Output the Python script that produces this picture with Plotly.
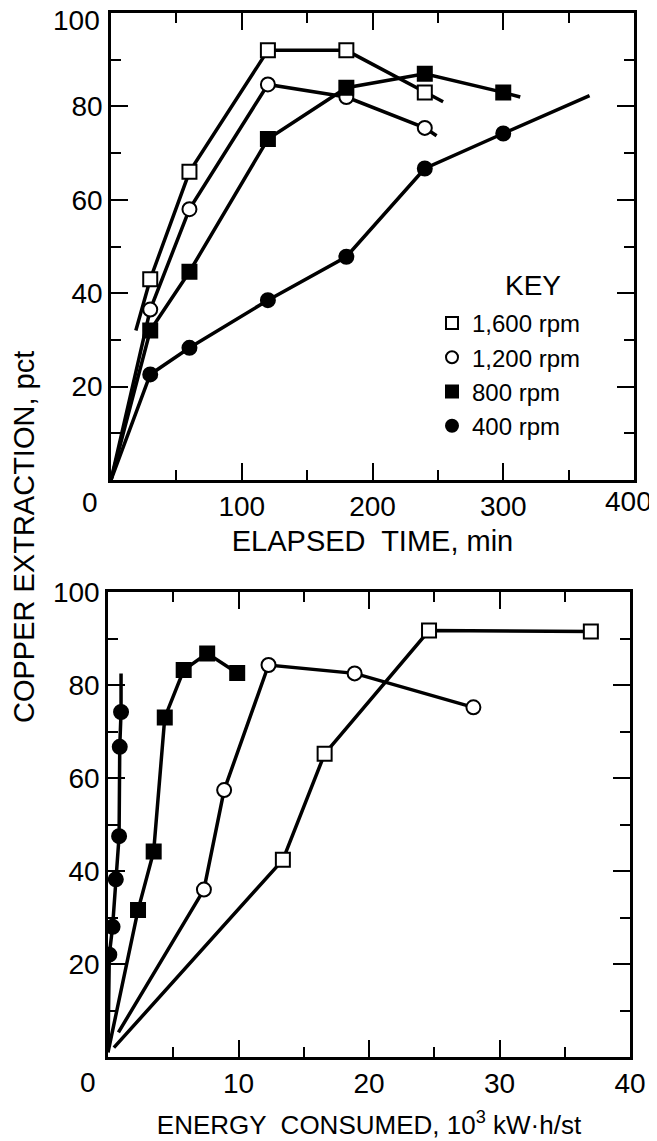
import plotly.graph_objects as go

# ---------------- DATA ----------------
# Top panel: elapsed time (min) vs copper extraction (pct)
series_names = ["1,600 rpm", "1,200 rpm", "800 rpm", "400 rpm"]

time_1600 = [30, 60, 120, 180, 240]
cu_t_1600 = [43, 66, 92, 92, 83]
time_1200 = [30, 60, 120, 180, 240]
cu_t_1200 = [36.5, 58, 84.7, 82, 75.4]
time_800 = [30, 60, 120, 180, 240, 300]
cu_t_800 = [32, 44.6, 73, 84, 87, 83]
time_400 = [30, 60, 120, 180, 240, 300]
cu_t_400 = [22.6, 28.3, 38.5, 47.8, 66.7, 74.2]

# drawn curve ends (start point, end point)
time_line_start = {"1,600 rpm": (19, 32), "1,200 rpm": (0, 0), "800 rpm": (0, 0), "400 rpm": (0, 0)}
time_line_end = {"1,600 rpm": (254, 81), "1,200 rpm": (249, 73.7), "800 rpm": (313, 82), "400 rpm": (366, 82.3)}

# Bottom panel: energy consumed (10^3 kW.h/st) vs copper extraction (pct)
energy_1600 = [13.4, 16.6, 24.6, 37.0]
cu_e_1600 = [42.4, 65.2, 91.7, 91.5]
energy_1200 = [7.35, 8.9, 12.3, 18.9, 28.0]
cu_e_1200 = [36, 57.4, 84.3, 82.5, 75.2]
energy_800 = [2.3, 3.5, 4.35, 5.8, 7.6, 9.9]
cu_e_800 = [31.6, 44.2, 73, 83.2, 86.8, 82.6]
energy_400 = [0.1, 0.35, 0.6, 0.85, 0.9, 1.0]
cu_e_400 = [22, 28, 38.2, 47.5, 66.7, 74.2]

energy_line_start = {"1,600 rpm": (0.45, 2), "1,200 rpm": (0.8, 5.3), "800 rpm": (0, 1), "400 rpm": (0, 1)}
energy_line_end = {"1,600 rpm": None, "1,200 rpm": None, "800 rpm": None, "400 rpm": (1.0, 82.5)}

x_ticks_time = [100, 200, 300, 400]
x_ticktext_time = ["100", "200", "300", ""]      # "400" lettered slightly inward (annotation)
x_ticks_energy = [10, 20, 30, 40]
y_ticks = [20, 40, 60, 80, 100]
y_ticktext_top = ["20", "40", "60", "80", ""]   # top "100" is lettered slightly lower (annotation)
y_ticktext_bot = ["20", "40", "60", "80", "100"]

# ---------------- LAYOUT HELPERS ----------------
PAGE_OFF = 8            # default body margin of the html page
W, H = 657 - PAGE_OFF, 1141 - PAGE_OFF
FONT = "Liberation Sans"


def px_x(p):
    return (p - PAGE_OFF) / W


def px_y(p):
    return 1 - (p - PAGE_OFF) / H


symbols = {"1,600 rpm": "square", "1,200 rpm": "circle", "800 rpm": "square", "400 rpm": "circle"}
fills = {"1,600 rpm": "white", "1,200 rpm": "white", "800 rpm": "black", "400 rpm": "black"}

top_data = {
    "1,600 rpm": (time_1600, cu_t_1600),
    "1,200 rpm": (time_1200, cu_t_1200),
    "800 rpm": (time_800, cu_t_800),
    "400 rpm": (time_400, cu_t_400),
}
bot_data = {
    "1,600 rpm": (energy_1600, cu_e_1600),
    "1,200 rpm": (energy_1200, cu_e_1200),
    "800 rpm": (energy_800, cu_e_800),
    "400 rpm": (energy_400, cu_e_400),
}

fig = go.Figure()


def add_panel(data, starts, ends, xa, ya, legend):
    for name in series_names:
        xs, ys = data[name]
        lx, ly = list(xs), list(ys)
        if starts.get(name):
            lx = [starts[name][0]] + lx
            ly = [starts[name][1]] + ly
        if ends.get(name):
            lx = lx + [ends[name][0]]
            ly = ly + [ends[name][1]]
        fig.add_trace(go.Scatter(x=lx, y=ly, mode="lines", xaxis=xa, yaxis=ya,
                                 line=dict(color="black", width=3.5),
                                 showlegend=False, hoverinfo="skip"))
    for name in series_names:
        xs, ys = data[name]
        fig.add_trace(go.Scatter(x=xs, y=ys, mode="markers", xaxis=xa, yaxis=ya, name=name,
                                 marker=dict(symbol=symbols[name], size=14, color=fills[name],
                                             line=dict(color="black", width=2)),
                                 showlegend=legend))


add_panel(top_data, time_line_start, time_line_end, "x", "y", True)
add_panel(bot_data, energy_line_start, energy_line_end, "x2", "y2", False)

axis_common = dict(showline=True, linecolor="black", linewidth=2.5, mirror="allticks",
                   ticks="inside", tickcolor="black", tickwidth=2, ticklen=17,
                   showgrid=False, zeroline=False, automargin=False,
                   ticklabeloverflow="allow",
                   tickfont=dict(family=FONT, size=28, color="black"))

minor_y = dict(tickvals=[10, 30, 50, 70, 90], ticklen=10, tickwidth=2, tickcolor="black", ticks="inside")

fig.update_layout(
    width=W, height=H,
    margin=dict(l=0, r=0, t=0, b=0),
    plot_bgcolor="white", paper_bgcolor="white",
    font=dict(family=FONT, color="black"),
    xaxis=dict(domain=[px_x(111), px_x(634)], range=[0, 400], anchor="y",
               tickmode="array", tickvals=x_ticks_time, ticktext=x_ticktext_time,
               minor=dict(tickvals=[50, 150, 250, 350], ticklen=10, tickwidth=2, tickcolor="black", ticks="inside"),
               title=dict(text="ELAPSED  TIME, min", font=dict(family=FONT, size=29, color="black"), standoff=10),
               **axis_common),
    yaxis=dict(domain=[px_y(480), px_y(13)], range=[0, 100], anchor="x",
               tickmode="array", tickvals=y_ticks, ticktext=y_ticktext_top, minor=minor_y, **axis_common),
    xaxis2=dict(domain=[px_x(108), px_x(630)], range=[0, 40], anchor="y2",
                tickmode="array", tickvals=x_ticks_energy,
                minor=dict(tickvals=[5, 15, 25, 35], ticklen=10, tickwidth=2, tickcolor="black", ticks="inside"),
                title=dict(text="ENERGY  CONSUMED, 10<sup>3</sup> kW·h/st",
                           font=dict(family=FONT, size=26, color="black"), standoff=18),
                **axis_common),
    yaxis2=dict(domain=[px_y(1057), px_y(592)], range=[0, 100], anchor="x2",
                tickmode="array", tickvals=y_ticks, ticktext=y_ticktext_bot, minor=minor_y, **axis_common),
    legend=dict(x=px_x(432), y=px_y(301), xanchor="left", yanchor="top",
                bgcolor="rgba(0,0,0,0)", borderwidth=0,
                font=dict(family=FONT, size=24, color="black"),
                itemsizing="constant"),
    showlegend=True,
)

# legend heading
fig.add_annotation(x=px_x(533), y=px_y(286), xref="paper", yref="paper", text="KEY", showarrow=False,
                   xanchor="center", yanchor="middle",
                   font=dict(family=FONT, size=28, color="black"))

# top "100" label, lettered a little below the frame line
fig.add_annotation(x=0, y=100, xref="x", yref="y", text="100", showarrow=False,
                   xanchor="right", yanchor="middle", xshift=-9, yshift=-8,
                   font=dict(family=FONT, size=28, color="black"))

# top "400" label, lettered a little inward from the frame corner
fig.add_annotation(x=400, y=0, xref="x", yref="y", text="400", showarrow=False,
                   xanchor="center", yanchor="middle", xshift=-6, yshift=-22,
                   font=dict(family=FONT, size=28, color="black"))

# the "0" origin labels, placed left of the origin as in the original lettering
fig.add_annotation(x=0, y=0, xref="x", yref="y", text="0", showarrow=False, xshift=-21, yshift=-23,
                   xanchor="center", yanchor="middle",
                   font=dict(family=FONT, size=28, color="black"))
fig.add_annotation(x=0, y=0, xref="x2", yref="y2", text="0", showarrow=False, xshift=-20, yshift=-25,
                   xanchor="center", yanchor="middle",
                   font=dict(family=FONT, size=28, color="black"))

# shared y-axis title
fig.add_annotation(x=px_x(24), y=px_y(537), xref="paper", yref="paper", text="COPPER EXTRACTION, pct",
                   textangle=-90, showarrow=False, xanchor="center", yanchor="middle",
                   font=dict(family=FONT, size=29, color="black"))

fig.write_html("out.html")
